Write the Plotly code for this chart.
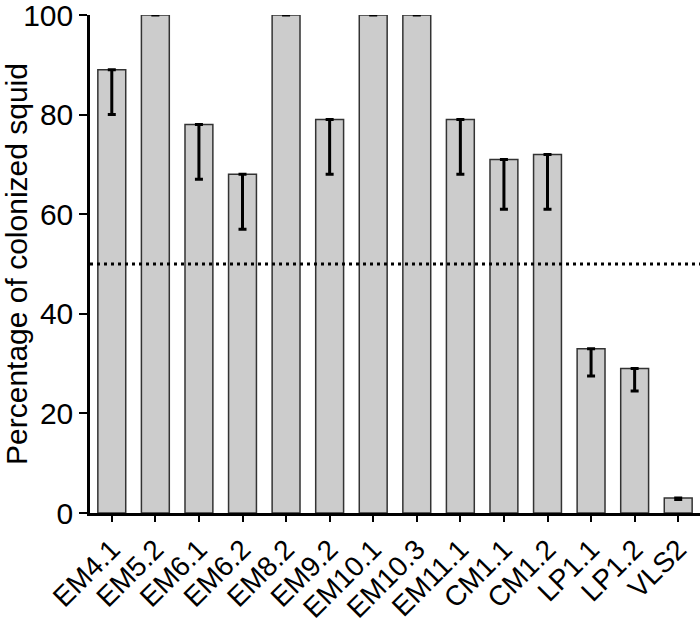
import plotly.graph_objects as go

categories = ["EM4.1", "EM5.2", "EM6.1", "EM6.2", "EM8.2", "EM9.2", "EM10.1",
              "EM10.3", "EM11.1", "CM1.1", "CM1.2", "LP1.1", "LP1.2", "VLS2"]
values = [89, 100, 78, 68, 100, 79, 100, 100, 79, 71, 72, 33, 29, 3]
err_minus = [9, 0, 11, 11, 0, 11, 0, 0, 11, 10, 11, 5.5, 4.5, 0.3]
err_plus = [0] * len(values)
threshold = 50
y_ticks = [0, 20, 40, 60, 80, 100]

FONT = "Liberation Sans, Arial, Helvetica, sans-serif"

fig = go.Figure()
fig.add_trace(go.Bar(
    x=categories, y=values,
    marker=dict(color="#cccccc", line=dict(color="#333333", width=1.5)),
    error_y=dict(type="data", symmetric=False, array=err_plus, arrayminus=err_minus,
                 color="black", thickness=3, width=4,
                 visible=True),
    showlegend=False,
))

fig.add_shape(type="line", xref="paper", x0=0, x1=1, yref="y", y0=threshold, y1=threshold,
              line=dict(color="black", width=3, dash="3px,4px"))

fig.update_layout(
    width=700, height=624,
    margin=dict(l=90, r=0, t=15, b=111),
    paper_bgcolor="white", plot_bgcolor="white",
    bargap=0.36,
    font=dict(family=FONT, color="black", size=30),
)
fig.update_xaxes(
    range=[-0.5, 13.5], showline=True, linecolor="black", linewidth=2.5,
    ticks="outside", ticklen=6, tickwidth=2, tickcolor="black",
    tickangle=-45, tickfont=dict(size=28, family=FONT, color="black"),
    showgrid=False, zeroline=False, automargin=False, ticklabeloverflow="allow",
)
fig.update_yaxes(
    range=[0, 100], tickvals=y_ticks, showline=True, linecolor="black", linewidth=2.5,
    ticks="outside", ticklen=8, tickwidth=2, tickcolor="black",
    tickfont=dict(size=30, family=FONT, color="black"),
    title=dict(text="Percentage of colonized squid", font=dict(size=30, family=FONT, color="black"),
               standoff=10),
    showgrid=False, zeroline=False, automargin=False, ticklabeloverflow="allow",
)

# remove the default 8px page margin so the figure fills the 700x624 window
fig.write_html("out.html", config={"displayModeBar": False},
               post_script="document.body.style.margin='0';")
